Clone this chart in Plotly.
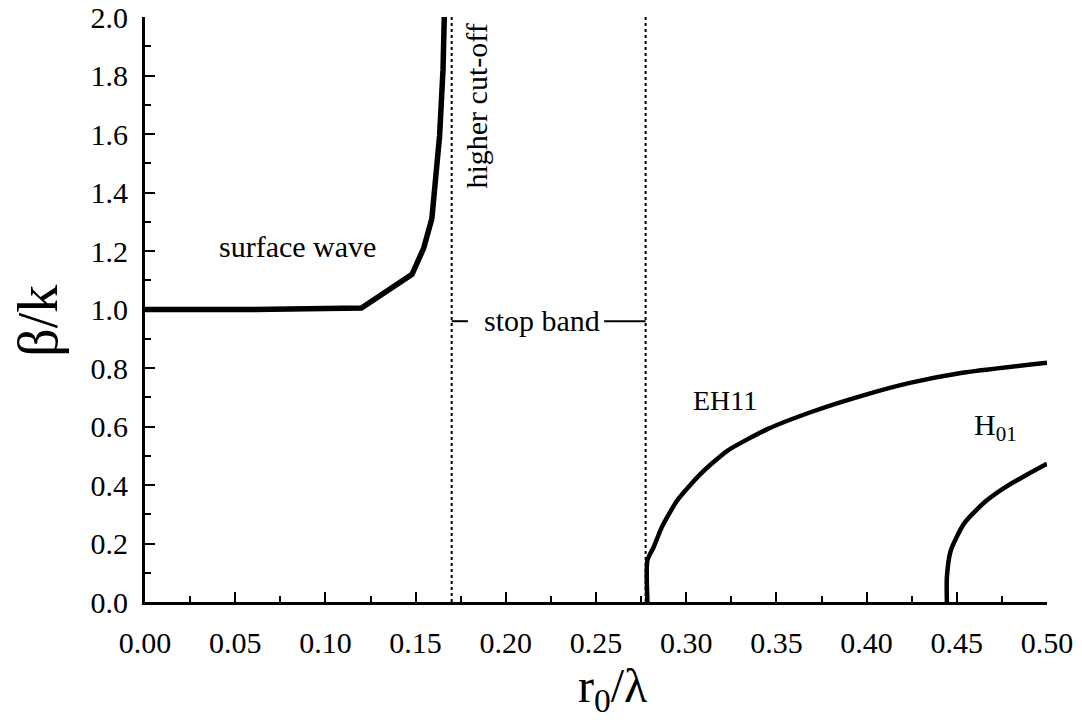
import plotly.graph_objects as go

# Surface wave branch
surface_x = [0.0, 0.06, 0.120, 0.134, 0.148, 0.1545, 0.159, 0.1633, 0.1652, 0.1659]
surface_y = [1.0, 1.0, 1.005, 1.065, 1.12, 1.21, 1.31, 1.594, 1.82, 2.0]

# EH11 mode
eh11_x = [0.2785, 0.2785, 0.282, 0.2865, 0.295, 0.308, 0.3228, 0.345, 0.3709, 0.3968, 0.424, 0.4523, 0.5]
eh11_y = [0.0, 0.143, 0.188, 0.256, 0.347, 0.438, 0.517, 0.591, 0.653, 0.704, 0.749, 0.783, 0.818]

# H01 mode
h01_x = [0.4445, 0.4445, 0.4467, 0.454, 0.4652, 0.4763, 0.4893, 0.5]
h01_y = [0.0, 0.085, 0.177, 0.268, 0.340, 0.390, 0.437, 0.473]

# Cut-off (dotted) lines
cutoff_x = [0.17, 0.2775]
cutoff_y = [0.0, 2.0]

# Stop band marker dashes
stop_dash_left = [0.17, 0.179]
stop_dash_right = [0.2545, 0.2775]
stop_dash_y = 0.96

# Tick values / labels
x_ticks = [0.0, 0.05, 0.10, 0.15, 0.20, 0.25, 0.30, 0.35, 0.40, 0.45, 0.50]
x_labels = ["0.00", "0.05", "0.10", "0.15", "0.20", "0.25", "0.30", "0.35", "0.40", "0.45", "0.50"]
x_minor = [0.025, 0.075, 0.125, 0.175, 0.225, 0.275, 0.325, 0.375, 0.425, 0.475]
y_ticks = [0.0, 0.2, 0.4, 0.6, 0.8, 1.0, 1.2, 1.4, 1.6, 1.8, 2.0]
y_labels = ["0.0", "0.2", "0.4", "0.6", "0.8", "1.0", "1.2", "1.4", "1.6", "1.8", "2.0"]
y_minor = [0.1, 0.3, 0.5, 0.7, 0.9, 1.1, 1.3, 1.5, 1.7, 1.9]

FONT = "Liberation Serif"

fig = go.Figure()

for cx in cutoff_x:
    fig.add_trace(go.Scatter(x=[cx, cx], y=cutoff_y, mode="lines",
                             line=dict(color="black", width=2, dash="dot"),
                             showlegend=False, hoverinfo="skip"))

fig.add_trace(go.Scatter(x=surface_x, y=surface_y, mode="lines",
                         line=dict(color="black", width=5.5), showlegend=False))
fig.add_trace(go.Scatter(x=eh11_x, y=eh11_y, mode="lines",
                         line=dict(color="black", width=4.5, shape="spline", smoothing=0.6),
                         showlegend=False))
fig.add_trace(go.Scatter(x=h01_x, y=h01_y, mode="lines",
                         line=dict(color="black", width=4.5, shape="spline", smoothing=0.6),
                         showlegend=False))

for seg in (stop_dash_left, stop_dash_right):
    fig.add_trace(go.Scatter(x=seg, y=[stop_dash_y, stop_dash_y], mode="lines",
                             line=dict(color="black", width=2),
                             showlegend=False, hoverinfo="skip"))

annos = [
    dict(x=0.0843, y=1.214, text="surface wave", textangle=0),
    dict(x=0.184, y=1.697, text="higher cut-off", textangle=-90),
    dict(x=0.2203, y=0.962, text="stop band", textangle=0),
    dict(x=0.3213, y=0.69, text="EH11", textangle=0, size=28),
    dict(x=0.4717, y=0.60, text="H<sub>01</sub>", textangle=0),
]
for a in annos:
    fig.add_annotation(x=a["x"], y=a["y"], xref="x", yref="y", text=a["text"],
                       textangle=a["textangle"], showarrow=False,
                       xanchor="center", yanchor="middle",
                       font=dict(family=FONT, size=a.get("size", 30), color="black"))

# Axis titles
fig.add_annotation(x=0.519, y=-0.148, xref="paper", yref="paper", text="r<sub>0</sub>/λ",
                   showarrow=False, xanchor="center", yanchor="middle",
                   font=dict(family=FONT, size=48, color="black"))
fig.add_annotation(x=-0.118, y=0.48, xref="paper", yref="paper", text="β/k", textangle=-90,
                   showarrow=False, xanchor="center", yanchor="middle",
                   font=dict(family=FONT, size=56, color="black"))

fig.update_xaxes(range=[0, 0.5], tickmode="array", tickvals=x_ticks, ticktext=x_labels,
                 ticks="inside", ticklen=10, tickwidth=2, tickcolor="black",
                 minor=dict(tickmode="array", tickvals=x_minor, ticks="inside", ticklen=6,
                            tickwidth=2, tickcolor="black", showgrid=False),
                 showline=True, linecolor="black", linewidth=3, showgrid=False, zeroline=False,
                 ticklabelstandoff=12, ticklabeloverflow="allow", automargin=False,
                 tickfont=dict(family=FONT, size=30, color="black"))
fig.update_yaxes(range=[0, 2.0], tickmode="array", tickvals=y_ticks, ticktext=y_labels,
                 ticks="inside", ticklen=10, tickwidth=2, tickcolor="black",
                 minor=dict(tickmode="array", tickvals=y_minor, ticks="inside", ticklen=6,
                            tickwidth=2, tickcolor="black", showgrid=False),
                 showline=True, linecolor="black", linewidth=3, showgrid=False, zeroline=False,
                 ticklabelstandoff=8, ticklabeloverflow="allow", automargin=False,
                 tickfont=dict(family=FONT, size=30, color="black"))

fig.update_layout(width=1082, height=724,
                  margin=dict(l=145, r=35, t=17, b=122, autoexpand=False),
                  font=dict(family=FONT, size=30, color="black"),
                  plot_bgcolor="white", paper_bgcolor="white",
                  showlegend=False)

fig.write_html("out.html")
